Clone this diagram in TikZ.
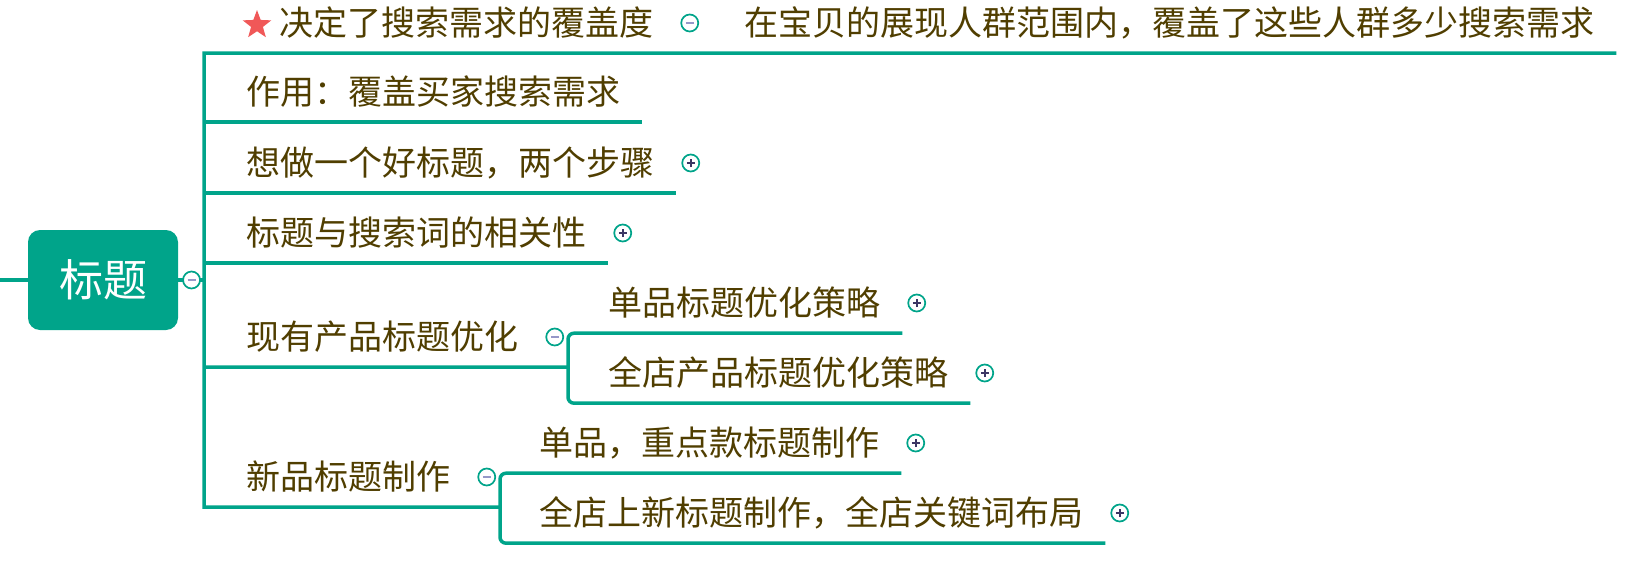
\documentclass[tikz,border=0pt]{standalone}
\usepackage{fontspec}
\usepackage{tikz}
\usetikzlibrary{positioning,shapes.geometric}
\newfontfamily\cjk{Noto Sans CJK SC}

\definecolor{mapteal}{RGB}{0,164,138}
\definecolor{topictext}{RGB}{80,62,0}
\definecolor{minusmark}{RGB}{150,152,200}
\definecolor{plusmark}{RGB}{60,54,100}
\definecolor{starred}{RGB}{240,88,88}

\tikzset{
  rootbox/.style={fill=mapteal, rounded corners=12pt, minimum width=150pt, minimum height=100pt,
    text=white, font=\cjk\fontsize{44}{50}\selectfont},
  topic/.style={anchor=west, inner xsep=0pt, inner ysep=14pt, text height=28pt, text depth=4pt,
    text=topictext, font=\cjk\fontsize{34}{40}\selectfont},
  branch/.style={draw=mapteal, line width=3.5pt},
  fold/.style={circle, draw=mapteal, fill=white, line width=1.7pt, minimum size=17pt, inner sep=0pt},
  minus/.style={fold, path picture={\draw[minusmark, line width=2.2pt]
    ([xshift=-4pt]path picture bounding box.center) -- ([xshift=4pt]path picture bounding box.center);}},
  plus/.style={fold, path picture={\draw[plusmark, line width=2pt]
    ([xshift=-4pt]path picture bounding box.center) -- ([xshift=4pt]path picture bounding box.center)
    ([yshift=-4pt]path picture bounding box.center) -- ([yshift=4pt]path picture bounding box.center);}},
  prio/.style={star, star points=5, star point ratio=2.4, fill=starred, minimum size=30pt, inner sep=0pt}
}

\begin{document}
\begin{tikzpicture}[x=1pt, y=-1pt]
  \useasboundingbox (0,0) rectangle (1625,562);

  \node (root) [rootbox] at (103,280) {标题};
  \coordinate (left) at (0,280);
  \coordinate (trunk) at (204,280);

  % first level
  \node (cover) [topic] at (279,23) {决定了搜索需求的覆盖度};
  \node (coverstar) [prio] at (257,25) {};
  \node (coverdet) [topic] at (744,23) {在宝贝的展现人群范围内，覆盖了这些人群多少搜索需求};
  \node (use) [topic] at (246,92) {作用：覆盖买家搜索需求};
  \node (steps) [topic] at (246,163) {想做一个好标题，两个步骤};
  \node (relev) [topic] at (246,233) {标题与搜索词的相关性};
  \node (cur) [topic] at (246,337) {现有产品标题优化};
  \node (newp) [topic] at (246,477) {新品标题制作};

  % second level
  \coordinate (cursub) at (568,367);
  \coordinate (newsub) at (500,507);
  \node (cursingle) [topic] at (608,303) {单品标题优化策略};
  \node (curshop) [topic] at (608,373) {全店产品标题优化策略};
  \node (newsingle) [topic] at (539,443) {单品，重点款标题制作};
  \node (newshop) [topic] at (539,513) {全店上新标题制作，全店关键词布局};

  % lines
  \draw [branch] (left) -- (root.west);
  \draw [branch] (root.east) -- (trunk);
  \draw [branch] ([xshift=22pt]coverdet.south east) -- (trunk |- cover.south) -- (trunk |- newp.south) -- (newsub);
  \draw [branch] (trunk |- use.south) -- ([xshift=22pt]use.south east);
  \draw [branch] (trunk |- steps.south) -- ([xshift=22pt]steps.south east);
  \draw [branch] (trunk |- relev.south) -- ([xshift=22pt]relev.south east);
  \draw [branch] (trunk |- cur.south) -- (cursub);
  \draw [branch, rounded corners=6pt] ([xshift=22pt]cursingle.south east) -- (cursub |- cursingle.south)
    -- (cursub |- curshop.south) -- ([xshift=22pt]curshop.south east);
  \draw [branch, rounded corners=6pt] ([xshift=22pt]newsingle.south east) -- (newsub |- newsingle.south)
    -- (newsub |- newshop.south) -- ([xshift=22pt]newshop.south east);

  % fold markers
  \node (rootfold) [minus, right=4pt of root] {};
  \node (coverfold) [minus, right=27pt of cover] {};
  \node (stepsfold) [plus, right=27pt of steps] {};
  \node (relevfold) [plus, right=27pt of relev] {};
  \node (curfold) [minus, right=27pt of cur] {};
  \node (newpfold) [minus, right=27pt of newp] {};
  \node (cursinglefold) [plus, right=27pt of cursingle] {};
  \node (curshopfold) [plus, right=27pt of curshop] {};
  \node (newsinglefold) [plus, right=27pt of newsingle] {};
  \node (newshopfold) [plus, right=27pt of newshop] {};
\end{tikzpicture}
\end{document}
